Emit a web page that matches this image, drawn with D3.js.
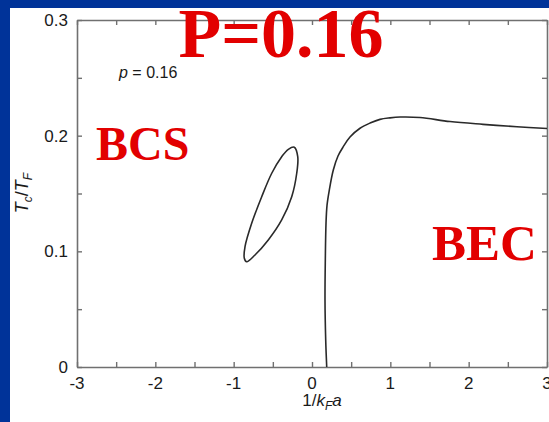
<!DOCTYPE html>
<html>
<head>
<meta charset="utf-8">
<script src="https://cdn.jsdelivr.net/npm/d3@7"></script>
<style>
  html, body { margin: 0; padding: 0; background: #003399; }
  svg { display: block; }
</style>
</head>
<body>
<svg id="chart" width="549" height="422"></svg>
<script>
// Tick labels
const xTickLabels = [-3, -2, -1, 0, 1, 2, 3];
const yTickLabels = [0, 0.1, 0.2, 0.3];

// Small closed loop (left of unitarity)
const loopX = [-0.226, -0.182, -0.195, -0.259, -0.387, -0.558, -0.728, -0.834, -0.864, -0.855, -0.770, -0.642, -0.514, -0.387, -0.302];
const loopY = [0.190, 0.1818, 0.1675, 0.1472, 0.1271, 0.1098, 0.0968, 0.0910, 0.094, 0.104, 0.1242, 0.1472, 0.1675, 0.1818, 0.1882];

// Main Tc branch
const branchX = [0.188, 0.175, 0.166, 0.170, 0.179, 0.192, 0.221, 0.272, 0.332, 0.400, 0.485, 0.613, 0.741, 0.868, 0.996, 1.124, 1.379, 1.762, 2.183, 2.617, 3.0];
const branchY = [0, 0.0233, 0.0579, 0.0925, 0.1245, 0.140, 0.153, 0.1703, 0.1824, 0.1905, 0.1988, 0.2064, 0.2109, 0.2141, 0.2154, 0.2161, 0.2157, 0.2122, 0.2098, 0.2077, 0.2062];

// Panel and plot dimensions
let margin = { top: 20, right: 2, bottom: 55, left: 77 };
const width = 549 - margin.left - margin.right;
const height = 422 - margin.top - margin.bottom;

const svg = d3.select("#chart");

// white slide panel
svg.append("rect")
  .attr("x", 10).attr("y", 8)
  .attr("width", 539).attr("height", 414)
  .attr("fill", "#fff");

const g = svg.append("g")
  .attr("transform", `translate(${margin.left},${margin.top})`);

const x = d3.scaleLinear().domain([-3, 3]).range([0, width]);
const y = d3.scaleLinear().domain([0, 0.3]).range([height, 0]);

const xMinor = d3.range(-3, 3.001, 0.5);
const yMinor = d3.range(0, 0.3001, 0.05);
const fmt = (d) => String(d);
const axisColor = "#707070";

// Axes, ticks on all four sides pointing inward
const axBottom = g.append("g")
  .attr("transform", `translate(0,${height})`)
  .call(d3.axisBottom(x).tickValues(xMinor).tickSize(-5).tickSizeOuter(0).tickFormat(""));
const axTop = g.append("g")
  .call(d3.axisTop(x).tickValues(xMinor).tickSize(-5).tickSizeOuter(0).tickFormat(""));
const axLeft = g.append("g")
  .call(d3.axisLeft(y).tickValues(yMinor).tickSize(-5).tickSizeOuter(0).tickFormat(""));
const axRight = g.append("g")
  .attr("transform", `translate(${width},0)`)
  .call(d3.axisRight(y).tickValues(yMinor).tickSize(-5).tickSizeOuter(0).tickFormat(""));

[axBottom, axTop, axLeft, axRight].forEach((a) => {
  a.select(".domain").attr("stroke", axisColor).attr("stroke-width", 1.6);
  a.selectAll(".tick line").attr("stroke", axisColor).attr("stroke-width", 1.4);
});

// Tick labels
g.selectAll(".xlab")
  .data(xTickLabels)
  .join("text")
  .attr("class", "xlab")
  .attr("x", (d) => x(d))
  .attr("y", height + 22)
  .attr("text-anchor", "middle")
  .attr("font-family", "Liberation Sans, Arial, sans-serif")
  .attr("font-size", 17)
  .attr("fill", "#1a1a1a")
  .text(fmt);

g.selectAll(".ylab")
  .data(yTickLabels)
  .join("text")
  .attr("class", "ylab")
  .attr("x", -9)
  .attr("y", (d) => y(d))
  .attr("dy", "0.36em")
  .attr("text-anchor", "end")
  .attr("font-family", "Liberation Sans, Arial, sans-serif")
  .attr("font-size", 17)
  .attr("fill", "#1a1a1a")
  .text(fmt);

// Axis titles
const xTitle = g.append("text")
  .attr("x", 245)
  .attr("y", height + 39)
  .attr("text-anchor", "middle")
  .attr("font-family", "Liberation Sans, Arial, sans-serif")
  .attr("font-size", 17)
  .attr("fill", "#1a1a1a");
xTitle.append("tspan").text("1/");
xTitle.append("tspan").attr("font-style", "italic").text("k");
xTitle.append("tspan").attr("font-style", "italic").attr("font-size", 12).attr("dy", 4).text("F");
xTitle.append("tspan").attr("font-style", "italic").attr("dy", -4).text("a");

const yTitle = svg.append("text")
  .attr("transform", "translate(28,193) rotate(-90)")
  .attr("text-anchor", "middle")
  .attr("font-family", "Liberation Sans, Arial, sans-serif")
  .attr("font-size", 18)
  .attr("fill", "#1a1a1a");
yTitle.append("tspan").attr("font-style", "italic").text("T");
yTitle.append("tspan").attr("font-style", "italic").attr("font-size", 12).attr("dy", 4).text("c");
yTitle.append("tspan").attr("dy", -4).text("/");
yTitle.append("tspan").attr("font-style", "italic").text("T");
yTitle.append("tspan").attr("font-style", "italic").attr("font-size", 12).attr("dy", 4).text("F");

// In-plot label
const pLab = g.append("text")
  .attr("x", 42)
  .attr("y", 58)
  .attr("font-family", "Liberation Sans, Arial, sans-serif")
  .attr("font-size", 16)
  .attr("fill", "#1a1a1a");
pLab.append("tspan").attr("font-style", "italic").text("p");
pLab.append("tspan").text(" = 0.16");

// Curves
const line = d3.line().x((d) => x(d[0])).y((d) => y(d[1]));

g.append("path")
  .datum(loopX.map((v, i) => [v, loopY[i]]))
  .attr("d", line.curve(d3.curveCatmullRomClosed.alpha(0.5)))
  .attr("fill", "none")
  .attr("stroke", "#2a2a2a")
  .attr("stroke-width", 1.6);

g.append("path")
  .datum(branchX.map((v, i) => [v, branchY[i]]))
  .attr("d", line.curve(d3.curveCatmullRom.alpha(0.5)))
  .attr("fill", "none")
  .attr("stroke", "#2a2a2a")
  .attr("stroke-width", 1.6);

// Red slide annotations
const red = "#e20000";
const serif = "Liberation Serif, Times New Roman, serif";
svg.append("text")
  .attr("x", 281).attr("y", 57)
  .attr("text-anchor", "middle")
  .attr("font-family", serif).attr("font-weight", "bold")
  .attr("font-size", 70).attr("fill", red)
  .text("P=0.16");
svg.append("text")
  .attr("x", 96).attr("y", 160)
  .attr("font-family", serif).attr("font-weight", "bold")
  .attr("font-size", 48).attr("fill", red)
  .text("BCS");
svg.append("text")
  .attr("x", 432).attr("y", 260)
  .attr("font-family", serif).attr("font-weight", "bold")
  .attr("font-size", 51).attr("fill", red)
  .text("BEC");
</script>
</body>
</html>
